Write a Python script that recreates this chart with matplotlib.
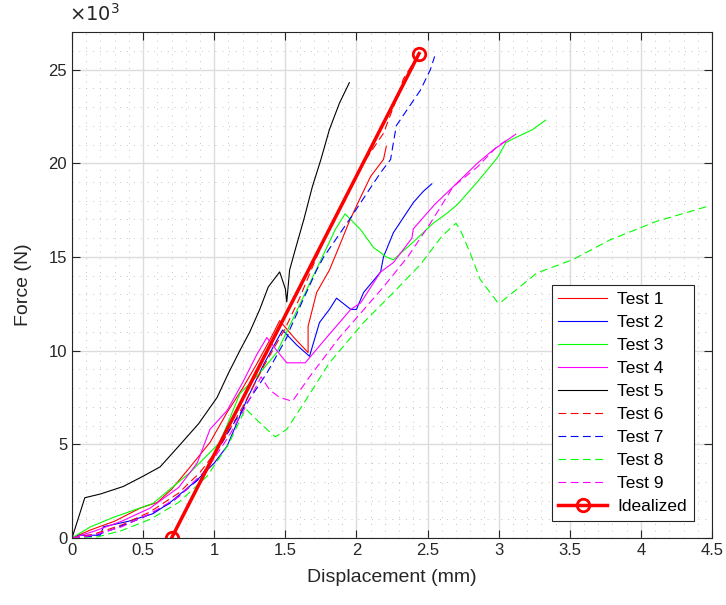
import numpy as np
import matplotlib
matplotlib.use("Agg")
import matplotlib.pyplot as plt
from matplotlib.ticker import MultipleLocator, FuncFormatter

plt.rcParams['font.family'] = ['Liberation Sans', 'DejaVu Sans']

# displacement (mm) / force (N) for each test
t1_x = [0, 0.13, 0.3, 0.48, 0.6, 0.7, 0.81, 0.97, 1.09, 1.2, 1.3, 1.4, 1.46,
        1.56, 1.66, 1.66, 1.72, 1.81, 1.87, 1.95, 2.03, 2.1, 2.19, 2.21]
t1_y = [0, 430, 900, 1600, 1900, 2600, 3600, 5100, 6700, 8000, 9300, 10700, 11600,
        10700, 9900, 11300, 13100, 14300, 15400, 16900, 18200, 19300, 20200, 20900]

t2_x = [0, 0.05, 0.2, 0.22, 0.4, 0.57, 0.69, 0.88, 1.0, 1.09, 1.23, 1.35, 1.48,
        1.58, 1.67, 1.74, 1.81, 1.86, 1.96, 2.0, 2.05, 2.17, 2.19, 2.26, 2.33, 2.4, 2.47, 2.53]
t2_y = [0, 150, 150, 600, 900, 1300, 1900, 3100, 4000, 4900, 7400, 9300, 11100,
        10300, 9700, 11500, 12200, 12800, 12200, 12200, 13100, 14200, 15000, 16300, 17100, 17900, 18500, 18900]

t3_x = [0, 0.13, 0.29, 0.57, 0.83, 1.04, 1.18, 1.32, 1.44, 1.56, 1.65, 1.76, 1.85, 1.92,
        2.03, 2.12, 2.21, 2.26, 2.4, 2.54, 2.64, 2.71, 2.85, 2.97, 3.0, 3.05, 3.1, 3.24, 3.33]
t3_y = [0, 600, 1100, 1850, 3500, 5100, 7700, 8800, 9900, 11800, 13250, 15000, 16450, 17300,
        16450, 15500, 15000, 14850, 15800, 16800, 17350, 17800, 19000, 20100, 20400, 21100, 21300, 21800, 22300]

t4_x = [0, 0.15, 0.35, 0.55, 0.75, 0.88, 0.97, 1.09, 1.2, 1.3, 1.37, 1.44, 1.51, 1.64,
        1.79, 1.96, 2.03, 2.17, 2.26, 2.39, 2.4, 2.55, 2.66, 2.85, 2.96, 3.12]
t4_y = [0, 350, 900, 1600, 2700, 4000, 5800, 6800, 8300, 9800, 10700, 10000, 9350, 9350,
        10700, 12200, 12550, 14200, 14700, 16000, 16500, 17800, 18600, 20000, 20700, 21550]

t5_x = [0, 0.09, 0.2, 0.36, 0.5, 0.62, 0.75, 0.89, 1.02, 1.1, 1.18, 1.25, 1.32, 1.38,
        1.46, 1.5, 1.51, 1.53, 1.57, 1.63, 1.69, 1.75, 1.81, 1.88, 1.95]
t5_y = [0, 2150, 2350, 2750, 3300, 3800, 4900, 6100, 7500, 8800, 10000, 11000, 12200, 13400,
        14200, 13300, 12600, 14300, 15400, 17000, 18750, 20200, 21800, 23200, 24300]

t6_x = [0, 0.15, 0.35, 0.55, 0.75, 0.9, 1.05, 1.2, 1.35, 1.5, 1.6, 1.72, 1.79,
        1.94, 2.03, 2.19, 2.29, 2.33, 2.42]
t6_y = [0, 200, 700, 1400, 2400, 3500, 5000, 7000, 9200, 11200, 12800, 15000, 16200,
        18400, 19800, 21600, 23600, 24500, 25600]

t7_x = [0, 0.15, 0.3, 0.5, 0.7, 0.9, 1.11, 1.23, 1.37, 1.51, 1.53, 1.6, 1.72, 1.77,
        1.96, 2.17, 2.24, 2.28, 2.36, 2.45, 2.52, 2.55]
t7_y = [0, 100, 500, 1100, 1900, 3200, 5800, 7200, 8800, 10700, 11100, 12300, 14300, 15000,
        17100, 19500, 20200, 22000, 22900, 23900, 25000, 25700]

t8_x = [0, 0.15, 0.35, 0.55, 0.75, 0.95, 1.1, 1.22, 1.3, 1.37, 1.43, 1.51, 1.63, 1.81,
        2.05, 2.26, 2.45, 2.6, 2.7, 2.73, 2.8, 2.87, 2.99, 3.01, 3.27, 3.52, 3.78, 4.11, 4.47]
t8_y = [0, 0, 400, 1000, 1900, 3300, 5000, 6900, 6300, 5800, 5400, 5800, 7200, 9350,
        11500, 13100, 14600, 16100, 16800, 16450, 15200, 13800, 12600, 12550, 14150, 14850, 15900, 16900, 17700]

t9_x = [0, 0.15, 0.35, 0.55, 0.75, 0.95, 1.1, 1.22, 1.33, 1.39, 1.46, 1.55, 1.67, 1.88,
        2.03, 2.19, 2.36, 2.52, 2.68, 2.85, 2.99, 3.05]
t9_y = [0, 150, 600, 1300, 2200, 3700, 5400, 7000, 8600, 7900, 7500, 7300, 8600, 10700,
        12000, 13400, 15000, 16800, 18750, 19800, 20900, 21200]

ideal_x = [0.7, 2.44]
ideal_y = [0, 25850]

labels = ['Test 1', 'Test 2', 'Test 3', 'Test 4', 'Test 5',
          'Test 6', 'Test 7', 'Test 8', 'Test 9']
xs = [t1_x, t2_x, t3_x, t4_x, t5_x, t6_x, t7_x, t8_x, t9_x]
ys = [t1_y, t2_y, t3_y, t4_y, t5_y, t6_y, t7_y, t8_y, t9_y]
colors = ['#ff0000', '#0000ff', '#00ff00', '#ff00ff', '#000000',
          '#ff0000', '#0000ff', '#00ff00', '#ff00ff']
styles = ['-'] * 5 + [(0, (7, 4))] * 4

fig = plt.figure(figsize=(7.26, 6.05), dpi=100)
ax = fig.add_axes([0.0992, 0.1107, 0.8815, 0.8363])

for x, y, c, ls, lab in zip(xs, ys, colors, styles, labels):
    ax.plot(x, y, color=c, linestyle=ls, linewidth=0.8, label=lab)

ax.plot(ideal_x, ideal_y, color='#ff0000', linewidth=2.5, marker='o',
        markersize=9, markerfacecolor='none', markeredgewidth=2, label='Idealized')

ax.set_xlim(0, 4.5)
ax.set_ylim(0, 27000)
ax.xaxis.set_major_locator(MultipleLocator(0.5))
ax.xaxis.set_minor_locator(MultipleLocator(0.1))
ax.yaxis.set_major_locator(MultipleLocator(5000))
ax.yaxis.set_minor_locator(MultipleLocator(1000))
ax.xaxis.set_major_formatter(FuncFormatter(lambda v, p: ('%g' % v)))
ax.yaxis.set_major_formatter(FuncFormatter(lambda v, p: '%d' % (v / 1000)))

ax.grid(which='major', color='#dcdcdc', linewidth=1.0)
ax.grid(which='minor', color='#c4c4c4', linestyle=(0, (1, 6)), linewidth=0.7)
ax.set_axisbelow(True)
ax.tick_params(which='both', direction='in', top=True, right=True,
               labelsize=12, colors='#262626')
ax.tick_params(which='major', length=6)
ax.tick_params(which='minor', length=0)
for s in ax.spines.values():
    s.set_color('#262626')
    s.set_linewidth(0.8)

ax.text(-0.005, 1.014, r'$\times 10^{3}$', transform=ax.transAxes, fontsize=14,
        color='#262626', ha='left', va='bottom')

ax.set_xlabel('Displacement (mm)', fontsize=14, color='#262626', labelpad=8)
ax.set_ylabel('Force (N)', fontsize=14, color='#262626', labelpad=12)

leg = ax.legend(loc='lower right', bbox_to_anchor=(0.972, 0.034), borderaxespad=0,
                fontsize=12.5, fancybox=False, framealpha=1, edgecolor='#262626',
                handlelength=2.8, labelspacing=0.45, borderpad=0.4, handletextpad=0.6)
leg.get_frame().set_linewidth(0.8)

fig.savefig('out.png', dpi=100)
